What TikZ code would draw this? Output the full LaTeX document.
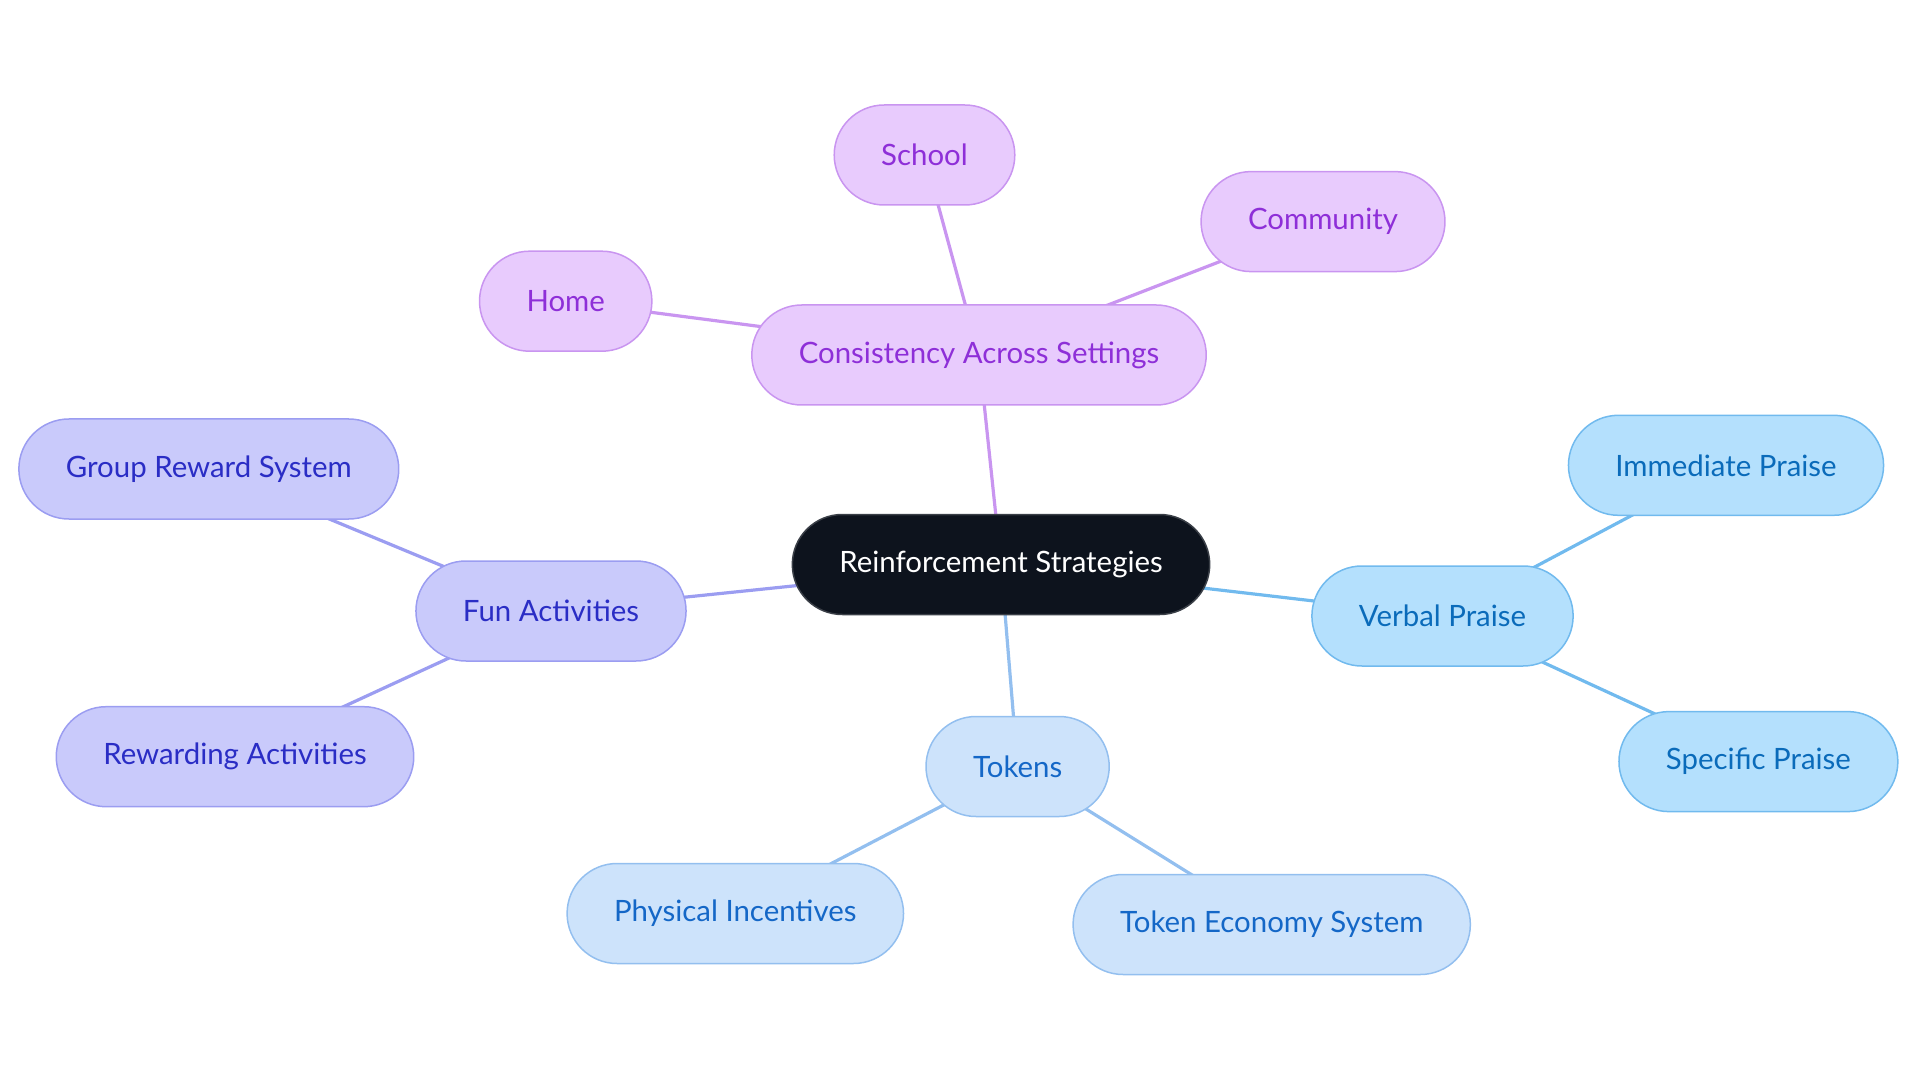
\documentclass[tikz,border=0pt]{standalone}
\usepackage{fontspec}
\setmainfont{Lato}
\usetikzlibrary{backgrounds}

\definecolor{rootfill}{HTML}{0D131D}
\definecolor{rootdraw}{HTML}{3A3F47}
\definecolor{purpfill}{HTML}{E8CBFD}
\definecolor{purpdraw}{HTML}{C995F0}
\definecolor{purptext}{HTML}{8E2FD8}
\definecolor{indfill}{HTML}{C9CAFB}
\definecolor{inddraw}{HTML}{9B9DF1}
\definecolor{indtext}{HTML}{2A2DC5}
\definecolor{skyfill}{HTML}{B4E0FD}
\definecolor{skydraw}{HTML}{71BAEE}
\definecolor{skytext}{HTML}{0A6BBA}
\definecolor{tokfill}{HTML}{CDE3FB}
\definecolor{tokdraw}{HTML}{93BFEF}
\definecolor{toktext}{HTML}{1467C7}

\begin{document}
\begin{tikzpicture}[x=0.5pt,y=0.5pt,
  every node/.style={rectangle,rounded corners=25pt,minimum height=50pt,inner xsep=23.5pt,
    line width=0.75pt,font=\fontsize{14.7}{17}\selectfont},
  root/.style={draw=rootdraw,fill=rootfill,text=white},
  purp/.style={draw=purpdraw,fill=purpfill,text=purptext},
  ind/.style={draw=inddraw,fill=indfill,text=indtext},
  sky/.style={draw=skydraw,fill=skyfill,text=skytext},
  tok/.style={draw=tokdraw,fill=tokfill,text=toktext},
  link/.style={line width=1.6pt}]
\useasboundingbox (0,0) rectangle (1920,1083);

  \node[root] (root) at (1001,518.5) {Reinforcement Strategies};

  \node[purp] (cons) at (979,728) {Consistency Across Settings};
  \node[purp] (school) at (924.5,928) {School};
  \node[purp] (community) at (1323,861.4) {Community};
  \node[purp] (home) at (565.7,781.8) {Home};

  \node[ind] (fun) at (551,472) {Fun Activities};
  \node[ind] (group) at (208.8,614) {Group Reward System};
  \node[ind] (rewarding) at (235,326.3) {Rewarding Activities};

  \node[sky] (verbal) at (1442.5,467) {Verbal Praise};
  \node[sky] (immediate) at (1726,617.7) {Immediate Praise};
  \node[sky] (specific) at (1758.4,321.4) {Specific Praise};

  \node[tok] (tokens) at (1017.6,316.5) {Tokens};
  \node[tok] (physical) at (735.3,169.5) {Physical Incentives};
  \node[tok] (economy) at (1271.7,158.5) {Token Economy System};

\begin{pgfonlayer}{background}
  \foreach \a/\b/\c in {root/cons/purpdraw,cons/school/purpdraw,cons/community/purpdraw,cons/home/purpdraw,
      root/fun/inddraw,fun/group/inddraw,fun/rewarding/inddraw,
      root/verbal/skydraw,verbal/immediate/skydraw,verbal/specific/skydraw,
      root/tokens/tokdraw,tokens/physical/tokdraw,tokens/economy/tokdraw} {
    \draw[link,\c] (\a.center) -- (\b.center);
  }
\end{pgfonlayer}
\end{tikzpicture}
\end{document}
